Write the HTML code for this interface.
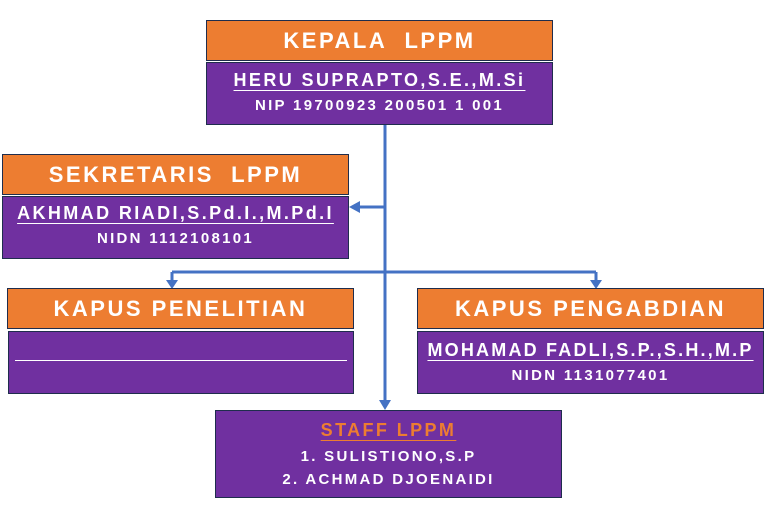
<!DOCTYPE html>
<html><head><meta charset="utf-8"><style>
body{margin:0;width:773px;height:520px;background:#fff;position:relative;overflow:hidden;font-family:"Liberation Sans",sans-serif;font-weight:bold;color:#fff}
.b{position:absolute;box-sizing:border-box;border:1px solid #1f2d4d;text-align:center}
.o{background:#ED7D31;font-size:22px;letter-spacing:2.5px;line-height:40px}
.p{background:#7030A0}
.n{font-size:18px;letter-spacing:2.4px;text-decoration:underline;text-decoration-thickness:1px;text-underline-offset:4px;white-space:nowrap}
.s{font-size:15px;letter-spacing:2.3px;white-space:nowrap}
</style></head><body>
<svg style="position:absolute;left:0;top:0" width="773" height="520">
<g stroke="#4472C4" stroke-width="3" fill="none">
<line x1="385" y1="124" x2="385" y2="402"/>
<line x1="385" y1="207" x2="358" y2="207"/>
<line x1="172" y1="272" x2="596" y2="272"/>
<line x1="172" y1="272" x2="172" y2="282"/>
<line x1="596" y1="272" x2="596" y2="282"/>
</g>
<g fill="#4472C4">
<polygon points="349,207 360,201 360,213"/>
<polygon points="166,280 178,280 172,289"/>
<polygon points="590,280 602,280 596,289"/>
<polygon points="379,400 391,400 385,410"/>
</g>
</svg>
<div class="b o" style="left:206px;top:20px;width:347px;height:41px">KEPALA&nbsp; LPPM</div>
<div class="b p" style="left:206px;top:62px;width:347px;height:63px"><div class="n" style="margin-top:7px">HERU SUPRAPTO,S.E.,M.Si</div><div class="s" style="margin-top:6px">NIP 19700923 200501 1 001</div></div>
<div class="b o" style="left:2px;top:154px;width:347px;height:41px">SEKRETARIS&nbsp; LPPM</div>
<div class="b p" style="left:2px;top:196px;width:347px;height:63px"><div class="n" style="margin-top:6px">AKHMAD RIADI,S.Pd.I.,M.Pd.I</div><div class="s" style="margin-top:6px">NIDN 1112108101</div></div>
<div class="b o" style="left:7px;top:288px;width:347px;height:41px">KAPUS PENELITIAN</div>
<div class="b p" style="left:8px;top:331px;width:346px;height:63px"><div style="margin:28px 6px 0 6px;border-top:1px solid #fff"></div></div>
<div class="b o" style="left:417px;top:288px;width:347px;height:41px">KAPUS PENGABDIAN</div>
<div class="b p" style="left:417px;top:331px;width:347px;height:63px"><div class="n" style="margin-top:8px;letter-spacing:2.2px">MOHAMAD FADLI,S.P.,S.H.,M.P</div><div class="s" style="margin-top:6px">NIDN 1131077401</div></div>
<div class="b p" style="left:215px;top:410px;width:347px;height:88px"><div class="n" style="margin-top:9px;color:#ED7D31">STAFF LPPM</div><div class="s" style="margin-top:7px">1. SULISTIONO,S.P</div><div class="s" style="margin-top:6px">2. ACHMAD DJOENAIDI</div></div>
</body></html>
